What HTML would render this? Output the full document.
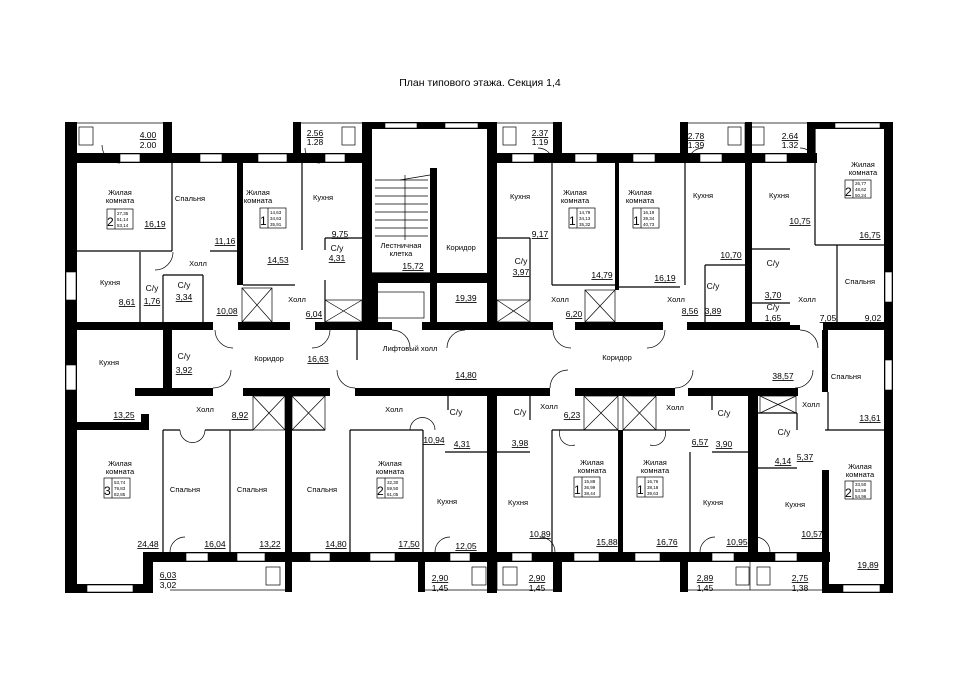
<!DOCTYPE html>
<html><head><meta charset="utf-8"><style>
html,body{margin:0;padding:0;background:#fff}
svg{display:block}
text{font-family:"Liberation Sans",sans-serif;fill:#000}
.n{font-size:7.5px;text-anchor:middle}
.a{font-size:8.5px;text-anchor:middle;text-decoration:underline}
.b{font-size:8.5px;text-anchor:middle}
.s{font-size:4.5px}
.w{fill:#000}
.t{stroke:#000;stroke-width:1.2;fill:none}
.th{stroke:#000;stroke-width:0.7;fill:none}
.win{fill:#fff;stroke:#000;stroke-width:0.6}
</style></head><body>
<svg width="960" height="678" viewBox="0 0 960 678" xmlns="http://www.w3.org/2000/svg">
<text x="480" y="86" style="font-size:10.5px;text-anchor:middle">План типового этажа. Секция 1,4</text>

<g class="th">
<line x1="77" y1="123" x2="165" y2="123"/>
<line x1="300" y1="123" x2="362" y2="123"/>
<line x1="497" y1="123" x2="555" y2="123"/>
<line x1="685" y1="123" x2="810" y2="123"/>
<line x1="745" y1="123" x2="745" y2="153"/>
<line x1="170" y1="590" x2="287" y2="590"/>
<line x1="424" y1="590" x2="555" y2="590"/>
<line x1="688" y1="590" x2="822" y2="590"/>
<line x1="497" y1="562" x2="497" y2="590"/>
<line x1="750" y1="562" x2="750" y2="590"/>
<rect x="79" y="127" width="14" height="18"/>
<rect x="342" y="127" width="13" height="18"/>
<rect x="503" y="127" width="13" height="18"/>
<rect x="728" y="127" width="13" height="18"/>
<rect x="751" y="127" width="13" height="18"/>
<rect x="266" y="567" width="14" height="18"/>
<rect x="472" y="567" width="14" height="18"/>
<rect x="503" y="567" width="14" height="18"/>
<rect x="736" y="567" width="13" height="18"/>
<rect x="757" y="567" width="13" height="18"/>
</g>

<g class="w">
<rect x="65" y="122" width="12" height="471"/>
<rect x="163" y="122" width="9" height="38"/>
<rect x="293" y="122" width="8" height="38"/>
<rect x="77" y="153" width="295" height="10"/>
<rect x="362" y="122" width="10" height="208"/>
<rect x="362" y="122" width="135" height="7"/>
<rect x="487" y="122" width="10" height="208"/>
<rect x="553" y="122" width="9" height="38"/>
<rect x="680" y="122" width="8" height="38"/>
<rect x="745" y="122" width="7" height="203"/>
<rect x="807" y="122" width="8" height="38"/>
<rect x="497" y="153" width="320" height="10"/>
<rect x="812" y="122" width="81" height="7"/>
<rect x="884" y="122" width="9" height="471"/>
<rect x="237" y="163" width="6" height="122"/>
<rect x="615" y="163" width="4" height="127"/>
<rect x="430" y="168" width="7" height="162"/>
<rect x="362" y="273" width="135" height="10"/>
<rect x="372" y="283" width="6" height="40"/>
<rect x="65" y="322" width="148" height="8"/>
<rect x="238" y="322" width="52" height="8"/>
<rect x="315" y="322" width="77" height="8"/>
<rect x="422" y="322" width="75" height="8"/>
<rect x="497" y="322" width="56" height="8"/>
<rect x="575" y="322" width="88" height="8"/>
<rect x="687" y="322" width="103" height="8"/>
<rect x="790" y="325" width="10" height="5"/>
<rect x="823" y="322" width="70" height="8"/>
<rect x="822" y="330" width="6" height="62"/>
<rect x="163" y="330" width="9" height="65"/>
<rect x="135" y="388" width="78" height="8"/>
<rect x="243" y="388" width="87" height="8"/>
<rect x="355" y="388" width="142" height="8"/>
<rect x="480" y="388" width="70" height="8"/>
<rect x="575" y="388" width="100" height="8"/>
<rect x="688" y="388" width="110" height="8"/>
<rect x="65" y="422" width="80" height="8"/>
<rect x="141" y="414" width="8" height="16"/>
<rect x="285" y="396" width="7" height="196"/>
<rect x="487" y="388" width="10" height="205"/>
<rect x="618" y="430" width="5" height="126"/>
<rect x="748" y="388" width="10" height="168"/>
<rect x="822" y="470" width="7" height="123"/>
<rect x="143" y="552" width="687" height="10"/>
<rect x="143" y="552" width="10" height="41"/>
<rect x="65" y="584" width="88" height="9"/>
<rect x="418" y="562" width="7" height="30"/>
<rect x="553" y="562" width="9" height="30"/>
<rect x="680" y="562" width="8" height="30"/>
<rect x="822" y="584" width="71" height="9"/>
</g>

<g>
<rect class="win" x="120" y="154" width="20" height="8"/>
<rect class="win" x="200" y="154" width="22" height="8"/>
<rect class="win" x="258" y="154" width="29" height="8"/>
<rect class="win" x="325" y="154" width="20" height="8"/>
<rect class="win" x="385" y="123" width="32" height="5"/>
<rect class="win" x="445" y="123" width="33" height="5"/>
<rect class="win" x="512" y="154" width="22" height="8"/>
<rect class="win" x="575" y="154" width="22" height="8"/>
<rect class="win" x="633" y="154" width="22" height="8"/>
<rect class="win" x="700" y="154" width="22" height="8"/>
<rect class="win" x="765" y="154" width="22" height="8"/>
<rect class="win" x="835" y="123" width="45" height="5"/>
<rect class="win" x="885" y="272" width="7" height="30"/>
<rect class="win" x="885" y="360" width="7" height="30"/>
<rect class="win" x="66" y="272" width="10" height="28"/>
<rect class="win" x="66" y="365" width="10" height="25"/>
<rect class="win" x="87" y="585" width="46" height="7"/>
<rect class="win" x="186" y="553" width="22" height="8"/>
<rect class="win" x="237" y="553" width="28" height="8"/>
<rect class="win" x="310" y="553" width="20" height="8"/>
<rect class="win" x="370" y="553" width="25" height="8"/>
<rect class="win" x="450" y="553" width="20" height="8"/>
<rect class="win" x="512" y="553" width="20" height="8"/>
<rect class="win" x="574" y="553" width="25" height="8"/>
<rect class="win" x="635" y="553" width="25" height="8"/>
<rect class="win" x="712" y="553" width="22" height="8"/>
<rect class="win" x="775" y="553" width="22" height="8"/>
<rect class="win" x="843" y="585" width="37" height="7"/>
</g>

<g class="t">
<line x1="77" y1="251" x2="172" y2="251"/>
<line x1="172" y1="163" x2="172" y2="251"/>
<line x1="210" y1="251" x2="237" y2="251"/>
<line x1="140" y1="252" x2="140" y2="322"/>
<line x1="163" y1="275" x2="163" y2="322"/>
<line x1="163" y1="275" x2="203" y2="275"/>
<line x1="203" y1="275" x2="203" y2="322"/>
<line x1="243" y1="285" x2="295" y2="285"/>
<line x1="302" y1="163" x2="302" y2="250"/>
<line x1="325" y1="238" x2="363" y2="238"/>
<line x1="325" y1="238" x2="325" y2="250"/>
<line x1="325" y1="280" x2="325" y2="322"/>
<line x1="372" y1="273" x2="430" y2="273"/>
<line x1="497" y1="238" x2="530" y2="238"/>
<line x1="530" y1="238" x2="530" y2="300"/>
<line x1="552" y1="163" x2="552" y2="285"/>
<line x1="552" y1="285" x2="615" y2="285"/>
<line x1="619" y1="287" x2="680" y2="287"/>
<line x1="685" y1="163" x2="685" y2="285"/>
<line x1="705" y1="265" x2="745" y2="265"/>
<line x1="705" y1="265" x2="705" y2="322"/>
<line x1="752" y1="249" x2="790" y2="249"/>
<line x1="752" y1="303" x2="790" y2="303"/>
<line x1="815" y1="128" x2="815" y2="245"/>
<line x1="815" y1="245" x2="884" y2="245"/>
<line x1="837" y1="245" x2="837" y2="322"/>
<line x1="357" y1="330" x2="357" y2="360"/>
<line x1="163" y1="430" x2="163" y2="552"/>
<line x1="163" y1="430" x2="180" y2="430"/>
<line x1="205" y1="430" x2="253" y2="430"/>
<line x1="230" y1="430" x2="230" y2="552"/>
<line x1="292" y1="430" x2="325" y2="430"/>
<line x1="350" y1="430" x2="423" y2="430"/>
<line x1="350" y1="430" x2="350" y2="552"/>
<line x1="423" y1="430" x2="423" y2="552"/>
<line x1="448" y1="396" x2="448" y2="410"/>
<line x1="445" y1="452" x2="487" y2="452"/>
<line x1="497" y1="452" x2="530" y2="452"/>
<line x1="530" y1="396" x2="530" y2="420"/>
<line x1="552" y1="430" x2="552" y2="552"/>
<line x1="552" y1="430" x2="618" y2="430"/>
<line x1="623" y1="430" x2="690" y2="430"/>
<line x1="690" y1="452" x2="690" y2="552"/>
<line x1="712" y1="452" x2="748" y2="452"/>
<line x1="712" y1="396" x2="712" y2="410"/>
<line x1="758" y1="413" x2="797" y2="413"/>
<line x1="758" y1="468" x2="797" y2="468"/>
<line x1="797" y1="413" x2="797" y2="430"/>
<line x1="825" y1="430" x2="884" y2="430"/>
<line x1="828" y1="392" x2="828" y2="430"/>
</g>

<g class="th">
<rect x="242" y="288" width="30" height="34"/><path d="M242 288L272 322M272 288L242 322"/>
<rect x="325" y="300" width="37" height="22"/><path d="M325 300L362 322M362 300L325 322"/>
<rect x="376" y="292" width="48" height="26"/>
<rect x="497" y="300" width="33" height="22"/><path d="M497 300L530 322M530 300L497 322"/>
<rect x="585" y="290" width="30" height="32"/><path d="M585 290L615 322M615 290L585 322"/>
<rect x="253" y="396" width="32" height="34"/><path d="M253 396L285 430M285 396L253 430"/>
<rect x="292" y="396" width="33" height="34"/><path d="M292 396L325 430M325 396L292 430"/>
<rect x="584" y="396" width="34" height="34"/><path d="M584 396L618 430M618 396L584 430"/>
<rect x="623" y="396" width="33" height="34"/><path d="M623 396L656 430M656 396L623 430"/>
<rect x="760" y="396" width="36" height="17"/><path d="M760 396L796 413M796 396L760 413"/>
<path d="M375 180H428M375 188H428M375 196H428M375 204H428M375 212H428M375 220H428M375 228H428M375 236H428"/>
<path d="M405 175V240M400 180L430 175"/>
<path d="M120 163A18 18 0 0 1 102 145M320 163A15 15 0 0 1 305 148M553 163A15 15 0 0 0 538 148M688 163A15 15 0 0 1 703 148M815 163A15 15 0 0 0 800 148"/>
<path d="M173 252A18 18 0 0 1 155 270M215 330A18 18 0 0 0 233 348M330 330A18 18 0 0 1 312 348M392 330A18 18 0 0 1 410 348M465 330A18 18 0 0 0 447 348"/>
<path d="M553 330A18 18 0 0 0 571 348M665 330A18 18 0 0 1 647 348M800 330A18 18 0 0 1 818 348"/>
<path d="M213 388A18 18 0 0 0 231 370M355 388A18 18 0 0 1 337 370M550 388A18 18 0 0 1 568 370M675 388A18 18 0 0 0 693 370M795 388A18 18 0 0 0 813 370"/>
<path d="M180 430A12 12 0 0 0 205 430M435 430A12 12 0 0 0 410 430M560 430A12 12 0 0 0 575 445M665 430A12 12 0 0 1 650 445"/>
<path d="M170 552A15 15 0 0 1 185 537M435 552A15 15 0 0 1 450 537M555 552A15 15 0 0 0 540 537M700 552A15 15 0 0 1 715 537M770 552A15 15 0 0 0 755 537"/>
</g>

<g>
<text class="a" x="148" y="138">4.00</text><text class="b" x="148" y="148">2.00</text>
<text class="a" x="315" y="136">2.56</text><text class="b" x="315" y="145">1.28</text>
<text class="a" x="540" y="136">2.37</text><text class="b" x="540" y="145">1.19</text>
<text class="a" x="696" y="139">2.78</text><text class="b" x="696" y="148">1.39</text>
<text class="a" x="790" y="139">2.64</text><text class="b" x="790" y="148">1.32</text>

<text class="n" x="120" y="195">Жилая</text><text class="n" x="120" y="203">комната</text>
<text class="a" x="155" y="227">16,19</text>
<text class="n" x="190" y="201">Спальня</text><text class="a" x="225" y="244">11,16</text>
<text class="n" x="258" y="195">Жилая</text><text class="n" x="258" y="203">комната</text>
<text class="a" x="278" y="263">14,53</text>
<text class="n" x="323" y="200">Кухня</text><text class="a" x="340" y="237">9,75</text>
<text class="b" x="337" y="251">С/у</text><text class="a" x="337" y="261">4,31</text>
<text class="n" x="401" y="248">Лестничная</text><text class="n" x="401" y="256">клетка</text>
<text class="a" x="413" y="269">15,72</text>
<text class="n" x="461" y="250">Коридор</text><text class="a" x="466" y="301">19,39</text>
<text class="n" x="198" y="266">Холл</text><text class="a" x="227" y="314">10,08</text>
<text class="n" x="110" y="285">Кухня</text><text class="a" x="127" y="305">8,61</text>
<text class="b" x="152" y="291">С/у</text><text class="a" x="152" y="304">1,76</text>
<text class="b" x="184" y="288">С/у</text><text class="a" x="184" y="300">3,34</text>
<text class="n" x="297" y="302">Холл</text><text class="a" x="314" y="317">6,04</text>
<text class="n" x="410" y="351">Лифтовый холл</text><text class="a" x="466" y="378">14,80</text>
<text class="n" x="269" y="361">Коридор</text><text class="a" x="318" y="362">16,63</text>
<text class="b" x="184" y="359">С/у</text><text class="a" x="184" y="373">3,92</text>
<text class="n" x="109" y="365">Кухня</text><text class="a" x="124" y="418">13,25</text>
<text class="n" x="205" y="412">Холл</text><text class="a" x="240" y="418">8,92</text>
<text class="n" x="394" y="412">Холл</text>
<text class="b" x="456" y="415">С/у</text>
<text class="a" x="434" y="443">10,94</text><text class="a" x="462" y="447">4,31</text>
<text class="n" x="617" y="360">Коридор</text><text class="a" x="783" y="379">38,57</text>

<text class="n" x="120" y="466">Жилая</text><text class="n" x="120" y="474">комната</text>
<text class="a" x="148" y="547">24,48</text>
<text class="n" x="185" y="492">Спальня</text><text class="a" x="215" y="547">16,04</text>
<text class="n" x="252" y="492">Спальня</text><text class="a" x="270" y="547">13,22</text>
<text class="n" x="322" y="492">Спальня</text><text class="a" x="336" y="547">14,80</text>
<text class="n" x="390" y="466">Жилая</text><text class="n" x="390" y="474">комната</text>
<text class="a" x="409" y="547">17,50</text>
<text class="n" x="447" y="504">Кухня</text><text class="a" x="466" y="549">12,05</text>
<text class="a" x="168" y="578">6,03</text><text class="b" x="168" y="588">3,02</text>
<text class="a" x="440" y="581">2,90</text><text class="b" x="440" y="591">1,45</text>
<text class="a" x="537" y="581">2,90</text><text class="b" x="537" y="591">1,45</text>
<text class="a" x="705" y="581">2,89</text><text class="b" x="705" y="591">1,45</text>
<text class="a" x="800" y="581">2,75</text><text class="b" x="800" y="591">1,38</text>

<text class="n" x="518" y="505">Кухня</text><text class="a" x="540" y="537">10,89</text>
<text class="b" x="520" y="415">С/у</text><text class="a" x="520" y="446">3,98</text>
<text class="n" x="549" y="409">Холл</text><text class="a" x="572" y="418">6,23</text>
<text class="n" x="592" y="465">Жилая</text><text class="n" x="592" y="473">комната</text>
<text class="a" x="607" y="545">15,88</text>
<text class="n" x="655" y="465">Жилая</text><text class="n" x="655" y="473">комната</text>
<text class="a" x="667" y="545">16,76</text>
<text class="n" x="675" y="410">Холл</text>
<text class="b" x="724" y="416">С/у</text><text class="a" x="700" y="445">6,57</text><text class="a" x="724" y="447">3,90</text>
<text class="n" x="713" y="505">Кухня</text><text class="a" x="737" y="545">10,95</text>
<text class="n" x="846" y="379">Спальня</text><text class="a" x="870" y="421">13,61</text>
<text class="n" x="811" y="407">Холл</text>
<text class="b" x="784" y="435">С/у</text><text class="a" x="783" y="464">4,14</text><text class="a" x="805" y="460">5,37</text>
<text class="n" x="795" y="507">Кухня</text><text class="a" x="812" y="537">10,57</text>
<text class="n" x="860" y="469">Жилая</text><text class="n" x="860" y="477">комната</text>
<text class="a" x="868" y="568">19,89</text>

<text class="n" x="520" y="199">Кухня</text><text class="a" x="540" y="237">9,17</text>
<text class="b" x="521" y="264">С/у</text><text class="a" x="521" y="275">3,97</text>
<text class="n" x="575" y="195">Жилая</text><text class="n" x="575" y="203">комната</text>
<text class="a" x="602" y="278">14,79</text>
<text class="n" x="640" y="195">Жилая</text><text class="n" x="640" y="203">комната</text>
<text class="a" x="665" y="281">16,19</text>
<text class="n" x="703" y="198">Кухня</text><text class="a" x="731" y="258">10,70</text>
<text class="n" x="560" y="302">Холл</text><text class="a" x="574" y="317">6,20</text>
<text class="n" x="676" y="302">Холл</text><text class="a" x="690" y="314">8,56</text>
<text class="b" x="713" y="289">С/у</text><text class="a" x="713" y="314">3,89</text>
<text class="n" x="779" y="198">Кухня</text><text class="a" x="800" y="224">10,75</text>
<text class="n" x="863" y="167">Жилая</text><text class="n" x="863" y="175">комната</text>
<text class="a" x="870" y="238">16,75</text>
<text class="b" x="773" y="266">С/у</text><text class="a" x="773" y="298">3,70</text>
<text class="b" x="773" y="310">С/у</text><text class="a" x="773" y="321">1,65</text>
<text class="n" x="807" y="302">Холл</text><text class="a" x="828" y="321">7,05</text>
<text class="n" x="860" y="284">Спальня</text><text class="a" x="873" y="321">9,02</text>
</g>

<g class="th">
<rect x="107" y="209" width="26" height="20"/><line x1="115" y1="209" x2="115" y2="229"/>
<rect x="260" y="208" width="26" height="20"/><line x1="268" y1="208" x2="268" y2="228"/>
<rect x="569" y="208" width="26" height="20"/><line x1="577" y1="208" x2="577" y2="228"/>
<rect x="633" y="208" width="26" height="20"/><line x1="641" y1="208" x2="641" y2="228"/>
<rect x="845" y="180" width="26" height="18"/><line x1="853" y1="180" x2="853" y2="198"/>
<rect x="104" y="478" width="26" height="20"/><line x1="112" y1="478" x2="112" y2="498"/>
<rect x="377" y="478" width="26" height="20"/><line x1="385" y1="478" x2="385" y2="498"/>
<rect x="574" y="477" width="26" height="20"/><line x1="582" y1="477" x2="582" y2="497"/>
<rect x="637" y="477" width="26" height="20"/><line x1="645" y1="477" x2="645" y2="497"/>
<rect x="845" y="481" width="26" height="18"/><line x1="853" y1="481" x2="853" y2="499"/>
</g>
<g style="font-size:12px">
<text x="107" y="226">2</text><text x="260" y="225">1</text><text x="569" y="225">1</text><text x="633" y="225">1</text><text x="845" y="196">2</text>
<text x="104" y="495">3</text><text x="377" y="495">2</text><text x="574" y="494">1</text><text x="637" y="494">1</text><text x="845" y="497">2</text>
</g>
<g class="s">
<text x="117" y="215">27,35</text><text x="117" y="221">51,14</text><text x="117" y="227">53,14</text>
<text x="270" y="214">14,63</text><text x="270" y="220">34,63</text><text x="270" y="226">35,91</text>
<text x="579" y="214">14,79</text><text x="579" y="220">34,13</text><text x="579" y="226">35,32</text>
<text x="643" y="214">16,19</text><text x="643" y="220">39,34</text><text x="643" y="226">40,73</text>
<text x="855" y="185">26,77</text><text x="855" y="191">48,62</text><text x="855" y="197">50,24</text>
<text x="114" y="484">53,74</text><text x="114" y="490">79,83</text><text x="114" y="496">82,85</text>
<text x="387" y="484">32,30</text><text x="387" y="490">59,50</text><text x="387" y="496">61,05</text>
<text x="584" y="483">15,88</text><text x="584" y="489">36,99</text><text x="584" y="495">38,44</text>
<text x="647" y="483">16,76</text><text x="647" y="489">38,18</text><text x="647" y="495">39,63</text>
<text x="855" y="486">33,50</text><text x="855" y="492">53,59</text><text x="855" y="498">54,96</text>
</g>
</svg>
</body></html>
